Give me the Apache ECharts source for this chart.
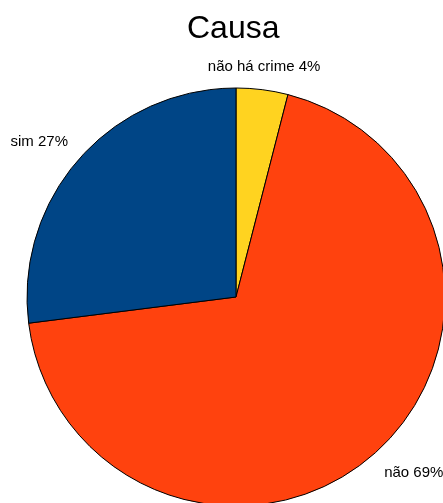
<!DOCTYPE html>
<html>
<head>
<meta charset="utf-8">
<script src="https://cdn.jsdelivr.net/npm/echarts@6/dist/echarts.min.js"></script>
<style>
  html, body { margin: 0; padding: 0; background: #fff; }
  #chart { width: 443px; height: 503px; }
</style>
</head>
<body>
<div id="chart"></div>
<script>
// Slice categories and their shares (percent), clockwise from 12 o'clock
const categories = ['não há crime', 'não', 'sim'];
const values = [4, 69, 27];
const colors = ['#ffd320', '#ff420e', '#004586'];

const CENTER = [236, 297];
const RADIUS = 209;
const LABEL_GAP = 15;

// Unit vector pointing through the middle of each slice (screen coords)
const total = values.reduce((a, b) => a + b, 0);
const midDirs = [];
let acc = 0;
values.forEach(v => {
  const theta = (acc + v / 2) / total * Math.PI * 2;
  midDirs.push([Math.sin(theta), -Math.cos(theta)]);
  acc += v;
});

const chart = echarts.init(document.getElementById('chart'), null, { renderer: 'canvas' });

chart.setOption({
  animation: false,
  title: {
    text: 'Causa',
    left: 182,
    top: 8,
    textStyle: { fontFamily: 'Liberation Sans', fontWeight: 'normal', fontSize: 32, color: '#000' }
  },
  series: [{
    type: 'pie',
    center: CENTER,
    radius: RADIUS,
    startAngle: 90,
    clockwise: true,
    avoidLabelOverlap: false,
    data: categories.map((name, i) => ({ name, value: values[i], itemStyle: { color: colors[i] } })),
    itemStyle: { borderColor: '#000', borderWidth: 1 },
    label: {
      position: 'outside',
      formatter: p => p.name + ' ' + p.value + '%',
      fontFamily: 'Liberation Sans',
      fontSize: 15,
      color: '#000'
    },
    labelLine: { show: false },
    // Place each label just outside the rim, its near corner facing the slice
    labelLayout: params => {
      const [ux, uy] = midDirs[params.dataIndex];
      const w = params.labelRect.width;
      const h = params.labelRect.height;
      const ax = CENTER[0] + ux * (RADIUS + LABEL_GAP);
      const ay = CENTER[1] + uy * (RADIUS + LABEL_GAP);
      const offX = Math.abs(ux) > 0.3 ? Math.sign(ux) * w / 2 : 0;
      const offY = Math.sign(uy) * h / 2;
      return { x: ax + offX, y: ay + offY, align: 'center', verticalAlign: 'middle' };
    },
    emphasis: { disabled: true }
  }]
});
</script>
</body>
</html>
